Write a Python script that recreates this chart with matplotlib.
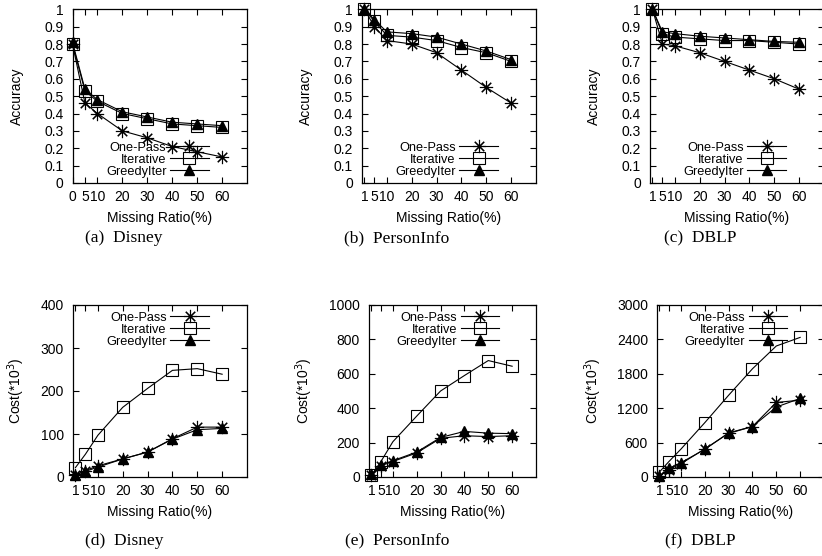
import matplotlib
matplotlib.use('Agg')
import matplotlib.pyplot as plt
from matplotlib.ticker import FixedLocator

plt.rcParams['font.family'] = ['Liberation Sans', 'DejaVu Sans']

# ---------------- data ----------------
x_acc_disney = [0, 5, 10, 20, 30, 40, 50, 60]
x_ratio = [1, 5, 10, 20, 30, 40, 50, 60]
xtick_disney_acc = [0, 5, 10, 20, 30, 40, 50, 60]
xtick_ratio = [1, 5, 10, 20, 30, 40, 50, 60]

series_names = ['One-Pass', 'Iterative', 'GreedyIter']

disney_acc_onepass = [0.80, 0.46, 0.40, 0.30, 0.26, 0.21, 0.18, 0.15]
disney_acc_iter = [0.80, 0.53, 0.47, 0.40, 0.37, 0.34, 0.33, 0.32]
disney_acc_greedy = [0.81, 0.54, 0.48, 0.41, 0.38, 0.35, 0.34, 0.33]

person_acc_onepass = [1.00, 0.90, 0.82, 0.80, 0.75, 0.65, 0.55, 0.46]
person_acc_iter = [1.00, 0.93, 0.85, 0.84, 0.82, 0.78, 0.75, 0.70]
person_acc_greedy = [1.00, 0.94, 0.87, 0.86, 0.84, 0.80, 0.76, 0.71]

dblp_acc_onepass = [1.00, 0.80, 0.79, 0.75, 0.70, 0.65, 0.60, 0.54]
dblp_acc_iter = [1.00, 0.86, 0.84, 0.83, 0.82, 0.82, 0.81, 0.80]
dblp_acc_greedy = [1.00, 0.87, 0.86, 0.845, 0.835, 0.825, 0.815, 0.81]

disney_cost_onepass = [5, 15, 26, 42, 58, 89, 116, 116]
disney_cost_iter = [22, 53, 97, 162, 206, 248, 252, 239]
disney_cost_greedy = [5, 13, 23, 42, 58, 88, 110, 113]

person_cost_onepass = [10, 65, 90, 140, 225, 240, 235, 240]
person_cost_iter = [10, 90, 205, 354, 500, 590, 677, 644]
person_cost_greedy = [15, 70, 95, 145, 230, 265, 255, 252]

dblp_cost_onepass = [10, 130, 230, 490, 760, 880, 1300, 1340]
dblp_cost_iter = [87, 270, 485, 946, 1425, 1887, 2285, 2435]
dblp_cost_greedy = [10, 150, 250, 480, 770, 880, 1220, 1370]

acc_yticks = [0, 0.1, 0.2, 0.3, 0.4, 0.5, 0.6, 0.7, 0.8, 0.9, 1]
acc_yticklabels = ['0', '0.1', '0.2', '0.3', '0.4', '0.5', '0.6', '0.7', '0.8', '0.9', '1']
disney_cost_yticks = [0, 100, 200, 300, 400]
person_cost_yticks = [0, 200, 400, 600, 800, 1000]
dblp_cost_yticks = [0, 600, 1200, 1800, 2400, 3000]

captions = ['(a)  Disney', '(b)  PersonInfo', '(c)  DBLP',
            '(d)  Disney', '(e)  PersonInfo', '(f)  DBLP']

# ---------------- layout ----------------
W, H = 822, 556
fig = plt.figure(figsize=(W / 100, H / 100), dpi=100)

def axes_px(l, r, t, b):
    return fig.add_axes([l / W, 1 - b / H, (r - l) / W, (b - t) / H])

FS = 10
LFS = 9.2

def style(ax, xticks, yticks, yticklabels=None, ylim=None, ylabel='', ylab_x=-0.31):
    ax.set_xlim(0, 70)
    ax.set_ylim(*ylim)
    ax.xaxis.set_major_locator(FixedLocator(xticks))
    ax.set_xticklabels([str(v) for v in xticks])
    ax.yaxis.set_major_locator(FixedLocator(yticks))
    if yticklabels is not None:
        ax.set_yticklabels(yticklabels)
    else:
        ax.set_yticklabels([str(v) for v in yticks])
    ax.tick_params(direction='in', length=4, width=0.8, top=True, right=True,
                   labelsize=FS, colors='black')
    ax.tick_params(axis='x', pad=5)
    ax.tick_params(axis='y', pad=6.5)
    for s in ax.spines.values():
        s.set_linewidth(0.9)
    ax.set_xlabel('Missing Ratio(%)', fontsize=FS)
    ax.xaxis.set_label_coords(0.5, -0.16)
    ax.set_ylabel(ylabel, fontsize=FS)
    ax.yaxis.set_label_coords(ylab_x, 0.5)

def draw(ax, x, one, it, gr):
    ax.plot(x, one, color='black', lw=0.8, marker=(8, 2, 0), ms=9.5, mew=0.8,
            label=series_names[0], clip_on=False, zorder=3)
    ax.plot(x, it, color='black', lw=0.8, marker='s', ms=8.5, mfc='none',
            mec='black', mew=0.8, label=series_names[1], clip_on=False, zorder=3)
    ax.plot(x, gr, color='black', lw=0.8, marker='^', ms=7, mfc='black',
            mec='black', label=series_names[2], clip_on=False, zorder=3)

def legend(ax, loc, anchor):
    ax.legend(loc=loc, bbox_to_anchor=anchor, frameon=False, markerfirst=False,
              fontsize=LFS, handlelength=3.0, handletextpad=0.3,
              labelspacing=0.0, borderpad=0, borderaxespad=0, numpoints=1)

# top row: accuracy
ax_a = axes_px(72.5, 247, 9.3, 183)
draw(ax_a, x_acc_disney, disney_acc_onepass, disney_acc_iter, disney_acc_greedy)
style(ax_a, xtick_disney_acc, acc_yticks, acc_yticklabels, (0, 1), 'Accuracy', -48.5 / 174.5)
legend(ax_a, 'lower right', (0.78, 0.03))

ax_b = axes_px(362, 536, 9.3, 183)
draw(ax_b, x_ratio, person_acc_onepass, person_acc_iter, person_acc_greedy)
style(ax_b, xtick_ratio, acc_yticks, acc_yticklabels, (0, 1), 'Accuracy', -49 / 174)
legend(ax_b, 'lower right', (0.78, 0.03))

ax_c = axes_px(650, 824, 9.3, 183)
draw(ax_c, x_ratio, dblp_acc_onepass, dblp_acc_iter, dblp_acc_greedy)
style(ax_c, xtick_ratio, acc_yticks, acc_yticklabels, (0, 1), 'Accuracy', -49 / 174)
legend(ax_c, 'lower right', (0.78, 0.03))

# bottom row: cost
ylab_cost = r'Cost(*10$^{3}$)'
ax_d = axes_px(73, 247, 305, 477)
draw(ax_d, x_ratio, disney_cost_onepass, disney_cost_iter, disney_cost_greedy)
style(ax_d, xtick_ratio, disney_cost_yticks, None, (0, 400), ylab_cost, -46 / 174)
legend(ax_d, 'upper right', (0.78, 0.96))

ax_e = axes_px(369, 536, 305, 477)
draw(ax_e, x_ratio, person_cost_onepass, person_cost_iter, person_cost_greedy)
style(ax_e, xtick_ratio, person_cost_yticks, None, (0, 1000), ylab_cost, -54 / 167)
legend(ax_e, 'upper right', (0.78, 0.96))

ax_f = axes_px(657, 824, 305, 477)
draw(ax_f, x_ratio, dblp_cost_onepass, dblp_cost_iter, dblp_cost_greedy)
style(ax_f, xtick_ratio, dblp_cost_yticks, None, (0, 3000), ylab_cost, -53 / 167)
legend(ax_f, 'upper right', (0.78, 0.96))

# captions
cap_x = [124, 397, 700, 124, 397, 700]
cap_y = [238, 238, 238, 541, 541, 541]
for cx, cy, txt in zip(cap_x, cap_y, captions):
    fig.text(cx / W, 1 - cy / H, txt, ha='center', va='center',
             fontsize=12.5, family=['Liberation Serif', 'DejaVu Serif'])

fig.savefig('out.png', dpi=100)
